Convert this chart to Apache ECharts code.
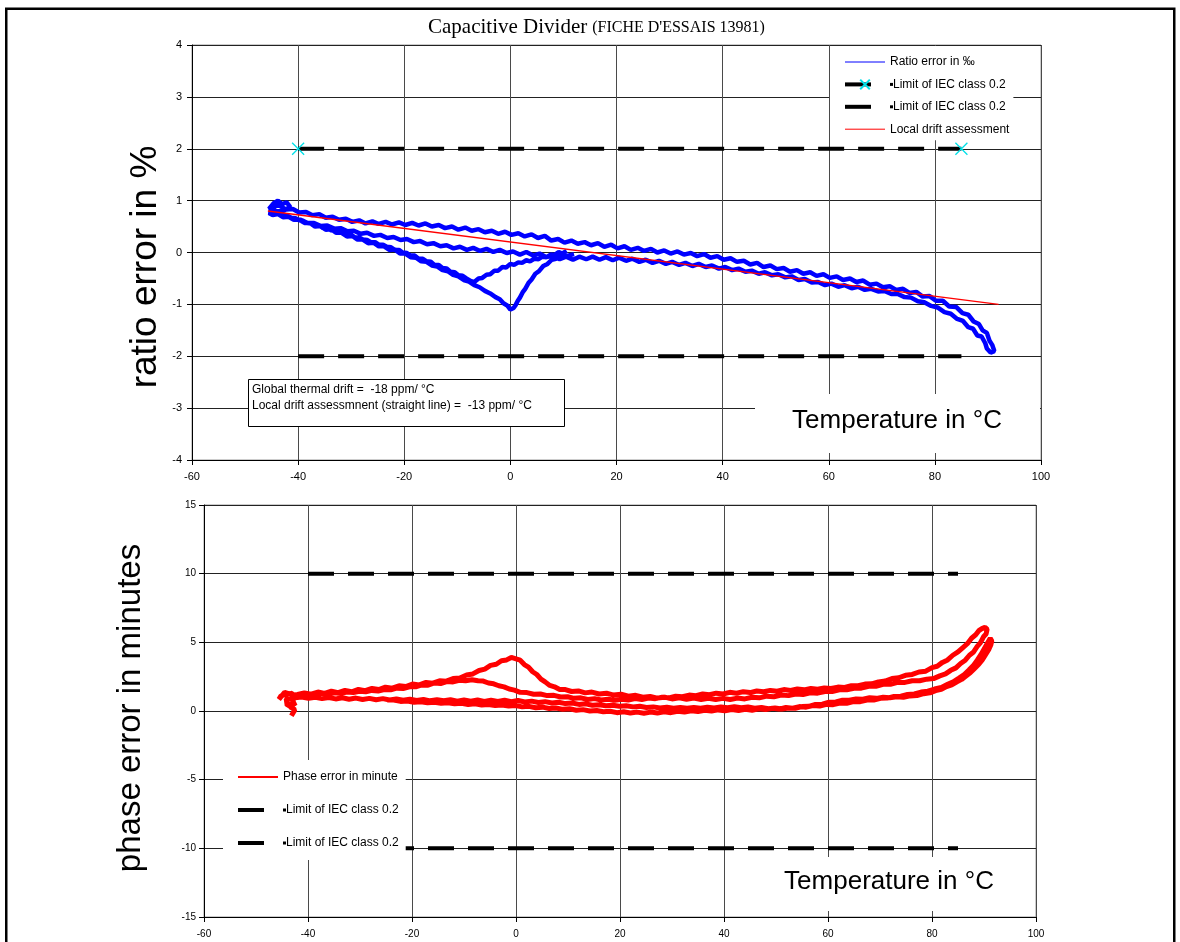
<!DOCTYPE html>
<html><head><meta charset="utf-8">
<script src="https://cdn.jsdelivr.net/npm/echarts@6/dist/echarts.min.js"></script>
<style>html,body{margin:0;padding:0;background:#fff}#c{width:1180px;height:942px}</style>
</head><body><div id="c"></div>
<script>
// ---- tick values ----
const tempTicks = [-60, -40, -20, 0, 20, 40, 60, 80, 100];
const ratioTicks = [-4, -3, -2, -1, 0, 1, 2, 3, 4];
const phaseTicks = [-15, -10, -5, 0, 5, 10, 15];

// ---- limit & drift lines ----
const ratioLimitUp = [[-40, 2], [85, 2]];
const ratioLimitDown = [[-40, -2], [85, -2]];
const localDrift = [[-45.7, 0.8], [92, -1.0]];
const phaseLimitUp = [[-40, 10], [85, 10]];
const phaseLimitDown = [[-40, -10], [85, -10]];

// ---- ratio error (‰) vs temperature ----
const ratioCoolA = [[10.6,0.03],[9.8,-0.02],[9.1,0.01],[8.3,-0.05],[7.6,-0.04],[6.8,-0.09],[6.0,-0.08],[5.3,-0.13],[4.5,-0.12],[3.7,-0.17],[3.0,-0.15],[2.2,-0.2],[1.5,-0.19],[0.7,-0.24],[0,-0.22],[-0.8,-0.29],[-1.5,-0.28],[-2.3,-0.35],[-3,-0.35],[-3.8,-0.42],[-4.5,-0.43],[-5.3,-0.49],[-6,-0.5],[-6.8,-0.57],[-7.5,-0.55],[-8.3,-0.5],[-9,-0.45],[-9.8,-0.44],[-10.5,-0.38],[-11.3,-0.37],[-12,-0.31],[-12.8,-0.3],[-13.5,-0.24],[-14.3,-0.24],[-15,-0.18],[-15.8,-0.17],[-16.5,-0.12],[-17.3,-0.12],[-18,-0.06],[-18.8,-0.06],[-19.5,-0.01],[-20.3,0.0],[-21,0.05],[-21.8,0.05],[-22.5,0.1],[-23.3,0.11],[-24,0.15],[-24.8,0.15],[-25.5,0.2],[-26.3,0.2],[-27,0.24],[-27.8,0.25],[-28.5,0.29],[-29.3,0.29],[-30,0.34],[-30.8,0.34],[-31.5,0.38],[-32.3,0.39],[-33,0.42],[-33.8,0.43],[-34.5,0.47],[-35.3,0.47],[-36,0.52],[-36.8,0.52],[-37.5,0.56],[-38.3,0.57],[-39,0.61],[-39.8,0.62],[-40.5,0.66],[-41.3,0.67],[-42,0.71],[-42.8,0.73],[-43.5,0.78],[-44.2,0.8],[-44.8,0.86],[-45.5,0.84],[-44.6,0.95],[-43.8,1.0],[-43,0.93],[-42.2,0.97],[-41.5,0.88],[-42.5,0.82],[-44,0.78],[-45.3,0.8],[-44.6,0.9]];
const ratioHeatA = [[-43.5,0.9],[-42.3,0.83],[-41,0.84],[-39.8,0.77],[-38.5,0.78],[-37.3,0.72],[-36,0.74],[-34.8,0.67],[-33.5,0.69],[-32.3,0.63],[-31,0.65],[-29.8,0.59],[-28.5,0.62],[-27.3,0.56],[-26,0.6],[-24.8,0.55],[-23.5,0.59],[-22.3,0.54],[-21,0.58],[-19.8,0.53],[-18.5,0.57],[-17.3,0.52],[-16,0.56],[-14.8,0.5],[-13.5,0.53],[-12.3,0.47],[-11,0.5],[-9.8,0.44],[-8.5,0.48],[-7.3,0.42],[-6,0.45],[-4.8,0.39],[-3.5,0.42],[-2.3,0.36],[-1,0.4],[0.2,0.34],[1.5,0.37],[2.7,0.31],[4,0.35],[5.2,0.28],[6.5,0.32],[7.7,0.23],[9,0.26],[10.2,0.19],[11.5,0.23],[12.7,0.17],[14,0.2],[15.2,0.14],[16.5,0.18],[17.7,0.11],[19,0.15],[20.2,0.08],[21.5,0.12],[22.7,0.05],[24,0.09],[25.2,0.03],[26.5,0.07],[27.7,0.0],[29,0.04],[30.2,-0.02],[31.5,0.02],[32.7,-0.04],[34,-0.01],[35.2,-0.07],[36.5,-0.03],[37.7,-0.1],[39,-0.07],[40.2,-0.14],[41.5,-0.11],[42.7,-0.18],[44,-0.16],[45.2,-0.23],[46.5,-0.2],[47.7,-0.28],[49,-0.25],[50.2,-0.32],[51.5,-0.3],[52.7,-0.37],[54,-0.34],[55.2,-0.41],[56.5,-0.38],[57.7,-0.45],[59,-0.42],[60.2,-0.49],[61.5,-0.46],[62.7,-0.53],[64,-0.5],[65.2,-0.57],[66.5,-0.54],[67.7,-0.62],[69,-0.6],[70.2,-0.67],[71.5,-0.65],[72.7,-0.72],[74,-0.7],[75.2,-0.78],[76.5,-0.76],[77.7,-0.85],[79,-0.84],[80.2,-0.93],[81.5,-0.93],[82.7,-1.04],[84,-1.05],[85.2,-1.17],[86.3,-1.2],[87.3,-1.33],[88.3,-1.38],[89,-1.5],[89.8,-1.55],[90.3,-1.7],[90.8,-1.78],[91.2,-1.9],[90.5,-1.93],[89.8,-1.85]];
const ratioCoolB = [[89.5,-1.75],[88.8,-1.62],[88,-1.6],[87.2,-1.47],[86.3,-1.44],[85.3,-1.32],[84.2,-1.28],[83,-1.18],[81.8,-1.15],[80.5,-1.06],[79.3,-1.03],[78,-0.96],[76.8,-0.94],[75.5,-0.87],[74.3,-0.86],[73,-0.8],[71.8,-0.8],[70.5,-0.74],[69.3,-0.75],[68,-0.7],[66.8,-0.72],[65.5,-0.66],[64.3,-0.69],[63,-0.63],[61.8,-0.66],[60.5,-0.6],[59.3,-0.63],[58,-0.57],[56.8,-0.58],[55.5,-0.51],[54.3,-0.53],[53,-0.46],[51.8,-0.48],[50.5,-0.42],[49.3,-0.44],[48,-0.38],[46.8,-0.41],[45.5,-0.35],[44.3,-0.37],[43,-0.31],[41.8,-0.34],[40.5,-0.28],[39.3,-0.31],[38,-0.25],[36.8,-0.28],[35.5,-0.22],[34.3,-0.26],[33,-0.2],[31.8,-0.24],[30.5,-0.18],[29.3,-0.22],[28,-0.16],[26.8,-0.2],[25.5,-0.14],[24.3,-0.18],[23,-0.12],[21.8,-0.16],[20.5,-0.1],[19.3,-0.15],[18,-0.09],[16.8,-0.14],[15.5,-0.08],[14.3,-0.13],[13,-0.08],[11.8,-0.14],[10.5,-0.08],[9.3,-0.13],[8,-0.06],[6.8,-0.09],[5.5,-0.02],[4.3,-0.06],[3,0.01],[1.8,-0.04],[0.5,0.02],[-0.7,-0.01],[-2,0.05],[-3.2,0.01],[-4.5,0.07],[-5.7,0.03],[-7,0.09],[-8.2,0.05],[-9.5,0.11],[-10.7,0.08],[-12,0.14],[-13.2,0.12],[-14.5,0.18],[-15.7,0.16],[-17,0.22],[-18.2,0.2],[-19.5,0.26],[-20.7,0.24],[-22,0.3],[-23.2,0.28],[-24.5,0.34],[-25.7,0.32],[-27,0.38],[-28.2,0.36],[-29.5,0.42],[-30.7,0.41],[-32,0.47],[-33.2,0.46],[-34.5,0.52],[-35.7,0.51],[-37,0.57],[-38.2,0.57],[-39.5,0.63],[-40.7,0.63],[-42,0.7],[-43.2,0.71],[-44.5,0.79],[-45.5,0.76]];
const ratioHeatB = [[-44.8,0.72],[-43.8,0.74],[-42.8,0.68],[-41.8,0.69],[-40.8,0.63],[-39.8,0.63],[-38.8,0.57],[-37.8,0.57],[-36.8,0.5],[-35.8,0.51],[-34.8,0.44],[-33.8,0.45],[-32.8,0.38],[-31.8,0.38],[-30.8,0.31],[-29.8,0.32],[-28.8,0.25],[-27.8,0.25],[-26.8,0.18],[-25.8,0.19],[-24.8,0.12],[-23.8,0.12],[-22.8,0.05],[-21.8,0.06],[-20.8,-0.02],[-19.8,-0.02],[-18.8,-0.09],[-17.8,-0.1],[-16.8,-0.17],[-15.8,-0.18],[-14.8,-0.25],[-13.8,-0.27],[-12.8,-0.34],[-11.8,-0.36],[-10.8,-0.43],[-9.8,-0.46],[-8.8,-0.53],[-7.8,-0.56],[-6.8,-0.63],[-5.8,-0.67],[-4.8,-0.74],[-3.8,-0.79],[-2.8,-0.86],[-2,-0.9],[-1.3,-0.98],[-0.6,-1.02],[0,-1.1],[0.6,-1.07],[1,-1.01],[1.4,-0.93],[1.8,-0.87],[2.3,-0.77],[2.8,-0.7],[3.4,-0.59],[4,-0.52],[4.7,-0.41],[5.4,-0.36],[6.2,-0.26],[7,-0.22],[7.8,-0.14],[8.6,-0.12],[9.4,-0.05],[10.5,-0.07],[12,-0.03]];

// ---- phase error (minutes) vs temperature ----
const phaseBlob = [[-43.2,-0.35],[-42.5,0.1],[-43.5,0.3],[-42.3,0.6],[-44,0.4],[-44.2,0.9],[-42.6,0.8],[-43,1.3],[-45.2,1.1],[-45.6,0.85],[-44.5,1.35],[-42.8,1.15]];
const phaseA = [[-42,1.2],[-40.7,1.32],[-39.4,1.22],[-38.1,1.38],[-36.8,1.28],[-35.5,1.44],[-34.2,1.34],[-32.9,1.5],[-31.6,1.4],[-30.3,1.57],[-29,1.48],[-27.7,1.64],[-26.4,1.56],[-25.1,1.74],[-23.8,1.66],[-22.5,1.84],[-21.2,1.78],[-19.9,1.96],[-18.6,1.9],[-17.3,2.08],[-16,2.03],[-14.7,2.2],[-13.4,2.17],[-12.1,2.36],[-10.8,2.4],[-9.5,2.62],[-8.3,2.7],[-7.1,2.95],[-6,3.05],[-4.9,3.32],[-3.8,3.4],[-2.8,3.66],[-1.8,3.72],[-0.9,3.9],[0,3.8],[0.8,3.7],[1.6,3.38],[2.4,3.2],[3.2,2.86],[4,2.66],[4.8,2.32],[5.6,2.12],[6.5,1.86],[7.4,1.76],[8.4,1.56],[9.5,1.56],[10.7,1.42],[12,1.46],[13.3,1.32],[14.6,1.38],[16,1.24],[17.4,1.3],[18.8,1.16],[20.2,1.22],[21.6,1.08],[23,1.14],[24.4,1.0],[25.8,1.06],[27.2,0.94],[28.6,1.0],[30,0.88],[31.4,0.96],[32.8,0.86],[34.2,0.94],[35.6,0.84],[37,0.92],[38.4,0.84],[39.8,0.92],[41.2,0.84],[42.6,0.94],[44,0.88],[45.4,1.0],[46.8,0.96],[48.2,1.08],[49.6,1.04],[51,1.16],[52.4,1.12],[53.8,1.24],[55.2,1.2],[56.6,1.32],[58,1.3],[59.4,1.42],[60.8,1.42],[62.2,1.54],[63.6,1.54],[65,1.66],[66.4,1.66],[67.8,1.8],[69.2,1.8],[70.6,1.94],[72,1.94],[73.4,2.08],[74.8,2.08],[76.2,2.2],[77.6,2.2],[79,2.32],[80.3,2.36],[81.5,2.56],[82.6,2.7],[83.6,2.96],[84.6,3.14],[85.5,3.46],[86.4,3.7],[87.2,4.06],[88,4.3],[88.7,4.7],[89.3,4.96],[89.9,5.4],[90.4,5.6],[90.6,5.95],[90.2,6.1],[89.6,6.0]];
const phaseB = [[89,5.85],[88.4,5.55],[87.6,5.3],[86.8,4.9],[86,4.64],[85,4.3],[84,4.06],[83,3.72],[82,3.54],[81,3.26],[80,3.16],[78.8,2.9],[77.5,2.84],[76.2,2.66],[74.9,2.6],[73.6,2.42],[72.3,2.36],[71,2.18],[69.7,2.12],[68.4,1.98],[67.1,1.96],[65.8,1.84],[64.5,1.84],[63.2,1.72],[61.9,1.74],[60.6,1.64],[59.3,1.68],[58,1.58],[56.7,1.64],[55.4,1.54],[54.1,1.6],[52.8,1.5],[51.5,1.56],[50.2,1.44],[48.9,1.5],[47.6,1.4],[46.3,1.46],[45,1.34],[43.7,1.4],[42.4,1.3],[41.1,1.36],[39.8,1.24],[38.5,1.3],[37.2,1.18],[35.9,1.24],[34.6,1.12],[33.3,1.16],[32,1.04],[30.7,1.08],[29.4,0.96],[28.1,1.0],[26.8,0.9],[25.5,0.94],[24.2,0.84],[22.9,0.9],[21.6,0.8],[20.3,0.86],[19,0.78],[17.7,0.86],[16.4,0.8],[15.1,0.9],[13.8,0.84],[12.5,0.96],[11.2,0.92],[9.9,1.04],[8.6,1.02],[7.3,1.14],[6,1.12],[4.7,1.24],[3.4,1.22],[2.1,1.34],[0.8,1.36],[-0.3,1.52],[-1.3,1.6],[-2.3,1.76],[-3.3,1.84],[-4.3,1.98],[-5.3,2.04],[-6.3,2.18],[-7.3,2.2],[-8.5,2.28],[-9.7,2.2],[-10.9,2.24],[-12.1,2.12],[-13.3,2.14],[-14.5,2.0],[-15.7,2.04],[-16.9,1.88],[-18.1,1.9],[-19.3,1.76],[-20.5,1.76],[-21.7,1.64],[-22.9,1.66],[-24.1,1.54],[-25.3,1.56],[-26.5,1.46],[-27.7,1.5],[-28.9,1.4],[-30.1,1.44],[-31.3,1.34],[-32.5,1.38],[-33.7,1.28],[-34.9,1.32],[-36.1,1.22],[-37.3,1.28],[-38.5,1.18],[-39.7,1.24],[-40.9,1.12],[-42.1,1.18],[-43.3,1.06]];
const phaseC = [[-42.5,0.96],[-41.2,1.02],[-39.9,0.92],[-38.6,1.0],[-37.3,0.9],[-36,0.98],[-34.7,0.88],[-33.4,0.96],[-32.1,0.86],[-30.8,0.94],[-29.5,0.84],[-28.2,0.92],[-26.9,0.82],[-25.6,0.9],[-24.3,0.8],[-23,0.88],[-21.7,0.78],[-20.4,0.86],[-19.1,0.76],[-17.8,0.84],[-16.5,0.74],[-15.2,0.82],[-13.9,0.74],[-12.6,0.82],[-11.3,0.72],[-10,0.8],[-8.7,0.72],[-7.4,0.8],[-6.1,0.7],[-4.8,0.78],[-3.5,0.7],[-2.2,0.78],[-0.9,0.68],[0.4,0.76],[1.7,0.66],[3,0.72],[4.3,0.62],[5.6,0.68],[6.9,0.58],[8.2,0.64],[9.5,0.54],[10.8,0.58],[12.1,0.48],[13.4,0.52],[14.7,0.42],[16,0.46],[17.3,0.38],[18.6,0.42],[19.9,0.34],[21.2,0.38],[22.5,0.3],[23.8,0.34],[25.1,0.26],[26.4,0.3],[27.7,0.22],[29,0.28],[30.3,0.2],[31.6,0.26],[32.9,0.2],[34.2,0.26],[35.5,0.2],[36.8,0.28],[38.1,0.22],[39.4,0.3],[40.7,0.24],[42,0.32],[43.3,0.24],[44.6,0.3],[45.9,0.2],[47.2,0.26],[48.5,0.16],[49.8,0.22],[51.1,0.14],[52.4,0.22],[53.7,0.2],[55,0.32],[56.3,0.34],[57.6,0.48],[58.9,0.5],[60.2,0.64],[61.5,0.66],[62.8,0.78],[64.1,0.78],[65.4,0.88],[66.7,0.86],[68,0.96],[69.3,0.92],[70.6,1.0],[71.9,0.96],[73.2,1.04],[74.5,1.0],[75.8,1.1],[77.1,1.12],[78.4,1.26],[79.6,1.32],[80.7,1.48],[81.8,1.58],[82.8,1.78],[83.8,1.9],[84.8,2.12],[85.7,2.3],[86.6,2.56],[87.4,2.8],[88.2,3.1],[89,3.4],[89.7,3.74],[90.3,4.1],[90.9,4.46],[91.3,4.8],[91.5,5.1],[91.2,5.3]];
const phaseD = [[90.6,4.9],[90,4.5],[89.4,4.1],[88.7,3.7],[88,3.34],[87.1,2.98],[86.2,2.66],[85.2,2.4],[84.1,2.12],[83,1.94],[81.8,1.72],[80.5,1.6],[79.2,1.44],[77.9,1.38],[76.6,1.24],[75.3,1.2],[74,1.08],[72.7,1.06],[71.4,0.94],[70.1,0.92],[68.8,0.8],[67.5,0.8],[66.2,0.68],[64.9,0.68],[63.6,0.56],[62.3,0.58],[61,0.46],[59.7,0.48],[58.4,0.36],[57.1,0.4],[55.8,0.28],[54.5,0.32],[53.2,0.2],[51.9,0.26],[50.6,0.14],[49.3,0.2],[48,0.1],[46.7,0.16],[45.4,0.06],[44.1,0.12],[42.8,0.04],[41.5,0.1],[40.2,0.02],[38.9,0.08],[37.6,0.0],[36.3,0.06],[35,-0.04],[33.7,0.02],[32.4,-0.08],[31.1,-0.02],[29.8,-0.12],[28.5,-0.06],[27.2,-0.14],[25.9,-0.08],[24.6,-0.16],[23.3,-0.08],[22,-0.14],[20.7,-0.06],[19.4,-0.12],[18.1,-0.02],[16.8,-0.06],[15.5,0.04],[14.2,0.0],[12.9,0.1],[11.6,0.06],[10.3,0.16],[9,0.12],[7.7,0.22],[6.4,0.18],[5.1,0.28],[3.8,0.24],[2.5,0.34],[1.2,0.3],[-0.1,0.4],[-1.4,0.36],[-2.7,0.44],[-4,0.4],[-5.3,0.48],[-6.6,0.44],[-7.9,0.52],[-9.2,0.48],[-10.5,0.56],[-11.8,0.52],[-13.1,0.6],[-14.4,0.56],[-15.7,0.64],[-17,0.6],[-18.3,0.68],[-19.6,0.64],[-20.9,0.72],[-22.2,0.7],[-23.5,0.8],[-24.8,0.8]];

const ratioError = [].concat(ratioCoolA, ratioHeatA, ratioCoolB, ratioHeatB);
const phaseError = [].concat(phaseBlob, phaseA, phaseB, phaseC, phaseD);

const legendLabels = {
  ratio: 'Ratio error in ‰',
  limUp1: 'Limit of IEC class 0.2',
  limDn1: 'Limit of IEC class 0.2',
  drift: 'Local drift assessment',
  phase: 'Phase error in minute',
  limUp2: 'Limit of IEC class 0.2',
  limDn2: 'Limit of IEC class 0.2'
};

const FONT = "'Liberation Sans', Arial, sans-serif";
const SERIF = "'Liberation Serif', 'Times New Roman', serif";
const last = a => a[a.length - 1];
// invisible marker (zero-area path) so legend icons show the line only
const NO_SYMBOL = 'path://M0,0L1,1';

function xAx(gi, fs, margin) {
  return {
    type: 'value', gridIndex: gi, min: tempTicks[0], max: last(tempTicks),
    interval: tempTicks[1] - tempTicks[0],
    axisLine: {show: true, onZero: false, lineStyle: {color: '#000', width: 1}},
    axisTick: {show: true, length: 5, lineStyle: {color: '#000'}},
    axisLabel: {color: '#000', fontSize: fs, fontFamily: FONT, margin: margin},
    splitLine: {show: true, lineStyle: {color: '#4a4a4a', width: 1}}
  };
}
function yAx(gi, ticks, fs, margin) {
  return {
    type: 'value', gridIndex: gi, min: ticks[0], max: last(ticks),
    interval: ticks[1] - ticks[0],
    axisLine: {show: true, onZero: false, lineStyle: {color: '#000', width: 1}},
    axisTick: {show: true, length: 5, lineStyle: {color: '#000'}},
    axisLabel: {color: '#000', fontSize: fs, fontFamily: FONT, margin: margin},
    splitLine: {show: true, lineStyle: {color: '#222', width: 1}}
  };
}
const limitLine = {color: '#000', width: 4, type: [26, 14]};
const legendCommon = {
  orient: 'vertical', backgroundColor: '#fff', itemWidth: 40, itemHeight: 12,
  selectedMode: false,
  textStyle: {color: '#000', fontSize: 12, fontFamily: FONT, lineHeight: 12,
    rich: {sq: {width: 3, height: 3, backgroundColor: '#000'}}},
  formatter: n => (n.indexOf('lim') === 0 ? '{sq|}' : '') + legendLabels[n]
};

function lineSeries(name, xi, data, lineStyle, z) {
  return {name: name, type: 'line', xAxisIndex: xi, yAxisIndex: xi, data: data,
    symbol: NO_SYMBOL, showSymbol: false, lineStyle: lineStyle,
    itemStyle: {color: 'rgba(0,0,0,0)', borderWidth: 0}, z: z, silent: true};
}

const chart = echarts.init(document.getElementById('c'), null, {renderer: 'canvas'});
chart.setOption({
  animation: false,
  backgroundColor: '#fff',
  title: {
    text: '{a|Capacitive Divider} {b|(FICHE D\'ESSAIS 13981)}',
    left: 423, top: 12,
    textStyle: {fontWeight: 'normal', rich: {
      a: {fontFamily: SERIF, fontSize: 21, fontWeight: 'normal', color: '#000'},
      b: {fontFamily: SERIF, fontSize: 16, fontWeight: 'normal', color: '#000'}
    }}
  },
  grid: [
    {left: 192, top: 45, width: 849, height: 415, show: true, borderColor: '#999', borderWidth: 1},
    {left: 204, top: 505, width: 832, height: 412, show: true, borderColor: '#999', borderWidth: 1}
  ],
  xAxis: [xAx(0, 11, 11), xAx(1, 10, 12)],
  yAxis: [yAx(0, ratioTicks, 11, 10), yAx(1, phaseTicks, 10, 8)],
  legend: [
    Object.assign({}, legendCommon, {
      left: 830, top: 46, padding: [10, 4, 5, 13], itemGap: 10.4,
      data: [
        {name: 'ratio', lineStyle: {width: 1, color: '#0000ff'}},
        {name: 'limUp1', lineStyle: limitLine},
        {name: 'limDn1', lineStyle: limitLine},
        {name: 'drift', lineStyle: {width: 1, color: '#ff0000'}}
      ]
    }),
    Object.assign({}, legendCommon, {
      left: 223, top: 760, padding: [11, 7, 11, 13], itemGap: 21,
      data: [
        {name: 'phase', lineStyle: {width: 2, color: '#ff0000'}},
        {name: 'limUp2', lineStyle: limitLine},
        {name: 'limDn2', lineStyle: limitLine}
      ]
    })
  ],
  series: [
    lineSeries('ratio', 0, ratioError, {color: '#0000ff', width: 4.5}, 2),
    {name: 'limUp1', type: 'line', xAxisIndex: 0, yAxisIndex: 0, data: ratioLimitUp,
      symbol: 'path://M0,0L10,10M10,0L0,10', symbolSize: 12, showSymbol: true, silent: true,
      lineStyle: limitLine, itemStyle: {color: 'rgba(0,0,0,0)', borderColor: '#00e0e8', borderWidth: 1.3}, z: 3},
    lineSeries('limDn1', 0, ratioLimitDown, limitLine, 3),
    lineSeries('drift', 0, localDrift, {color: '#ff0000', width: 1.3}, 4),
    lineSeries('phase', 1, phaseError, {color: '#ff0000', width: 5}, 2),
    lineSeries('limUp2', 1, phaseLimitUp, limitLine, 3),
    lineSeries('limDn2', 1, phaseLimitDown, limitLine, 3)
  ],
  graphic: [
    {type: 'rect', z: 20, silent: true, shape: {x: 6.25, y: 8.75, width: 1168, height: 1000},
      style: {fill: 'none', stroke: '#000', lineWidth: 2.5}},
    {type: 'text', z: 20, x: 146, y: 267, rotation: Math.PI / 2,
      style: {text: 'ratio error in %', fontSize: 37, fontFamily: FONT, fill: '#000', textAlign: 'center', textVerticalAlign: 'middle'}},
    {type: 'text', z: 20, x: 131, y: 708, rotation: Math.PI / 2,
      style: {text: 'phase error in minutes', fontSize: 33, fontFamily: FONT, fill: '#000', textAlign: 'center', textVerticalAlign: 'middle'}},
    {type: 'rect', z: 10, shape: {x: 755, y: 394, width: 285, height: 59}, style: {fill: '#fff'}},
    {type: 'text', z: 11, x: 897, y: 421,
      style: {text: 'Temperature in °C', fontSize: 26, fontFamily: FONT, fill: '#000', textAlign: 'center', textVerticalAlign: 'middle'}},
    {type: 'rect', z: 10, shape: {x: 745, y: 857, width: 290, height: 54}, style: {fill: '#fff'}},
    {type: 'text', z: 11, x: 889, y: 882,
      style: {text: 'Temperature in °C', fontSize: 26, fontFamily: FONT, fill: '#000', textAlign: 'center', textVerticalAlign: 'middle'}},
    {type: 'rect', z: 10, shape: {x: 248.5, y: 379.5, width: 316, height: 47}, style: {fill: '#fff', stroke: '#000', lineWidth: 1}},
    {type: 'text', z: 11, x: 252, y: 390,
      style: {text: 'Global thermal drift =  -18 ppm/ °C', fontSize: 12, fontFamily: FONT, fill: '#000', textVerticalAlign: 'middle'}},
    {type: 'text', z: 11, x: 252, y: 406,
      style: {text: 'Local drift assessmnent (straight line) =  -13 ppm/ °C', fontSize: 12, fontFamily: FONT, fill: '#000', textVerticalAlign: 'middle'}}
  ]
});
</script></body></html>
